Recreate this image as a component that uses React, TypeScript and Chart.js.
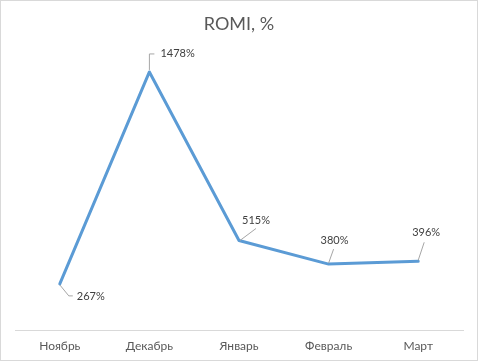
import React, { useEffect, useRef } from "react";
import { Chart, registerables } from "chart.js";

Chart.register(...registerables);

const categories = ["Ноябрь", "Декабрь", "Январь", "Февраль", "Март"];
const romiValues = [267, 1478, 515, 380, 396];
const chartTitle = "ROMI, %";

// label placement relative to each point (leader path + text anchor)
const labelLayouts = [
  { leader: [[0, 1], [9, 12], [13, 12]], text: [17, 13] },
  { leader: [[0, -2], [0, -18], [5, -18]], text: [11, -18] },
  { leader: [[1, 0], [17, -12]], text: [3, -20] },
  { leader: [[0, -1], [5, -15]], text: [-8, -24] },
  { leader: [[0, -1], [6, -19]], text: [-6, -29] },
];

const FONT = "Lato, 'Open Sans', 'DejaVu Sans', sans-serif";

const decorPlugin = {
  id: "decor",
  beforeDraw(chart: any) {
    const { ctx, width, height } = chart;
    ctx.save();
    ctx.fillStyle = "#ffffff";
    ctx.fillRect(0, 0, width, height);
    ctx.strokeStyle = "#d9d9d9";
    ctx.lineWidth = 1;
    ctx.strokeRect(0.5, 0.5, width - 1, height - 1);
    ctx.restore();
  },
  afterDatasetsDraw(chart: any) {
    const { ctx } = chart;
    const meta = chart.getDatasetMeta(0);
    ctx.save();
    meta.data.forEach((pt: any, i: number) => {
      const lay = labelLayouts[i];
      if (!lay) return;
      ctx.strokeStyle = "#a6a6a6";
      ctx.lineWidth = 1;
      ctx.beginPath();
      lay.leader.forEach((p: number[], j: number) => {
        const x = pt.x + p[0];
        const y = pt.y + p[1];
        if (j === 0) ctx.moveTo(x, y);
        else ctx.lineTo(x, y);
      });
      ctx.stroke();
      ctx.fillStyle = "#404040";
      ctx.font = `11px ${FONT}`;
      ctx.textAlign = "left";
      ctx.textBaseline = "middle";
      ctx.fillText(`${romiValues[i]}%`, pt.x + lay.text[0], pt.y + lay.text[1]);
    });
    ctx.restore();
  },
};

export default function App() {
  const canvasRef = useRef<HTMLCanvasElement | null>(null);

  useEffect(() => {
    document.body.style.margin = "0";
    const canvas = canvasRef.current;
    if (!canvas) return;
    const chart = new Chart(canvas, {
      type: "line",
      data: {
        labels: categories,
        datasets: [
          {
            data: romiValues,
            borderColor: "#5B9BD5",
            borderWidth: 3,
            borderJoinStyle: "round",
            borderCapStyle: "round",
            pointRadius: 0,
            tension: 0,
            fill: false,
          },
        ],
      },
      options: {
        animation: false,
        responsive: false,
        maintainAspectRatio: false,
        layout: { padding: { left: 15, right: 15, top: 0, bottom: 0 } },
        plugins: {
          legend: { display: false },
          tooltip: { enabled: false },
          title: {
            display: true,
            text: chartTitle,
            color: "#595959",
            font: { family: FONT, size: 18, weight: "normal" },
            padding: { top: 13, bottom: 16 },
          },
        },
        scales: {
          x: {
            offset: true,
            grid: { display: false, drawTicks: false },
            border: { display: true, color: "#d9d9d9", width: 1 },
            ticks: {
              color: "#595959",
              font: { family: FONT, size: 12 },
              padding: 8,
              maxRotation: 0,
            },
          },
          y: {
            display: false,
            min: 0,
            max: 1600,
          },
        },
      },
      plugins: [decorPlugin],
    });
    return () => chart.destroy();
  }, []);

  return (
    <div style={{ width: 478, height: 361 }}>
      <canvas ref={canvasRef} width={478} height={361} style={{ display: "block" }} />
    </div>
  );
}
